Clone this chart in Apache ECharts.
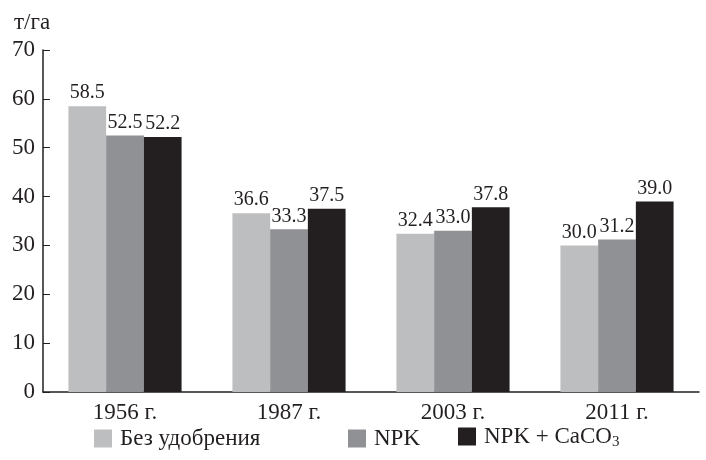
<!DOCTYPE html>
<html>
<head>
<meta charset="utf-8">
<script src="https://cdn.jsdelivr.net/npm/echarts@6/dist/echarts.min.js"></script>
<style>
  html, body { margin: 0; padding: 0; background: #fff; }
  #main { width: 706px; height: 460px; }
</style>
</head>
<body>
<div id="main"></div>
<script>
// данные
const years = ['1956 г.', '1987 г.', '2003 г.', '2011 г.'];
const noFert = [58.5, 36.6, 32.4, 30.0];
const npk = [52.5, 33.3, 33.0, 31.2];
const npkCa = [52.2, 37.5, 37.8, 39.0];
const seriesNames = ['Без удобрения', 'NPK', 'NPK + CaCO3'];

const font = 'Liberation Serif';
const ink = '#231f20';
const chart = echarts.init(document.getElementById('main'));

function barSeries(name, data, color) {
    return {
        name: name,
        type: 'bar',
        data: data,
        barGap: 0,
        barCategoryGap: '31%',
        itemStyle: { color: color },
        label: {
            show: true,
            position: 'top',
            distance: 3,
            color: ink,
            fontFamily: font,
            fontSize: 20,
            formatter: p => p.value.toFixed(1)
        }
    };
}

// одна легенда на каждый ряд, чтобы расставить как в оригинале
function legendAt(name, left) {
    return {
        data: [name],
        left: left,
        bottom: 5,
        itemWidth: 18,
        itemHeight: 18,
        icon: 'rect',
        textStyle: {
            fontFamily: font, fontSize: 23, color: ink,
            padding: [0, 0, 0, 3],
            rich: {
                sub: { fontFamily: font, fontSize: 15, color: ink, verticalAlign: 'bottom', padding: [12, 0, 0, 0] }
            }
        },
        formatter: n => n === 'NPK + CaCO3' ? 'NPK + CaCO{sub|3}' : n
    };
}

const option = {
    animation: false,
    backgroundColor: '#fff',
    title: {
        text: 'т/га',
        left: 9,
        top: 6,
        textStyle: { fontFamily: font, fontSize: 23, fontWeight: 'normal', color: ink }
    },
    grid: { left: 43, right: 7, top: 50, bottom: 68 },
    legend: [
        legendAt(seriesNames[0], 89),
        legendAt(seriesNames[1], 343),
        legendAt(seriesNames[2], 453)
    ],
    xAxis: {
        type: 'category',
        data: years,
        axisLine: { lineStyle: { color: ink, width: 1.5 } },
        axisTick: { inside: true, length: 6, lineStyle: { color: ink } },
        axisLabel: { fontFamily: font, fontSize: 23, color: ink, margin: 9 }
    },
    yAxis: {
        type: 'value',
        min: 0,
        max: 70,
        interval: 10,
        splitLine: { show: false },
        axisLine: { show: true, lineStyle: { color: ink, width: 1.5 } },
        axisTick: { show: true, inside: true, length: 7, lineStyle: { color: ink } },
        axisLabel: { fontFamily: font, fontSize: 23, color: ink, margin: 8 }
    },
    series: [
        barSeries(seriesNames[0], noFert, '#bdbec0'),
        barSeries(seriesNames[1], npk, '#909194'),
        barSeries(seriesNames[2], npkCa, ink)
    ]
};

chart.setOption(option);
</script>
</body>
</html>
